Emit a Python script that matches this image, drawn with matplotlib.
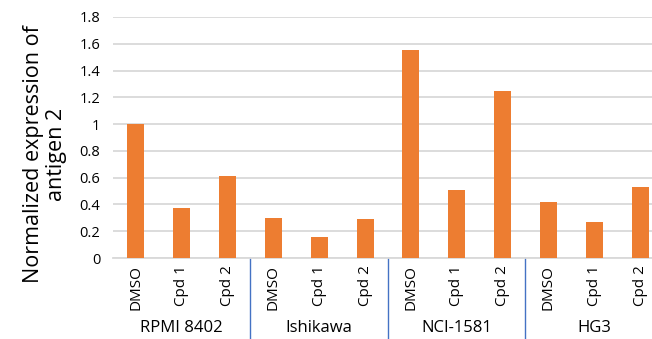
import matplotlib
matplotlib.use("Agg")
import matplotlib.pyplot as plt
import numpy as np

plt.rcParams['font.family'] = ['Open Sans', 'DejaVu Sans']

groups = ["RPMI 8402", "Ishikawa", "NCI-1581", "HG3"]
treatments = ["DMSO", "Cpd 1", "Cpd 2"]
values = [1.00, 0.37, 0.61,
          0.30, 0.16, 0.29,
          1.55, 0.51, 1.25,
          0.42, 0.27, 0.53]

W, H = 652, 339
fig = plt.figure(figsize=(W / 100, H / 100), dpi=100)
left, right, top, bottom = 113, 652, 17, 258
ax = fig.add_axes([left / W, 1 - bottom / H, (right - left) / W, (bottom - top) / H])

x = np.arange(len(values))
labels = treatments * len(groups)
ax.bar(x, values, width=0.37, color="#ED7D31", zorder=3)

ax.set_ylim(0, 1.8)
# plot area is cut on the right, as in the source image
ax.set_xlim(-0.5, len(values) - 0.5 - 11 / 45.86)
ax.set_yticks(np.arange(0, 1.81, 0.2))
ax.set_yticklabels(["0", "0.2", "0.4", "0.6", "0.8", "1", "1.2", "1.4", "1.6", "1.8"])
ax.yaxis.grid(True, color="#D9D9D9", linewidth=1.3, zorder=0)
ax.set_xticks(x)
ax.set_xticklabels(labels, rotation=90, fontsize=11, color="#000000")
ax.tick_params(axis="x", length=0, pad=5)
ax.tick_params(axis="y", length=0, pad=9, labelsize=10.5)
for s in ["top", "right", "left"]:
    ax.spines[s].set_visible(False)
ax.spines["bottom"].set_color("#D9D9D9")
ax.spines["bottom"].set_linewidth(1.3)

# group labels and separators below the axis
tr = ax.get_xaxis_transform()
n = len(treatments)
for i, g in enumerate(groups):
    ax.text(i * n + 1, -0.29, g, transform=tr, ha="center", va="center", fontsize=12)
    if i > 0:
        ax.plot([i * n - 0.5] * 2, [0, -0.35], transform=tr, color="#4472C4",
                linewidth=1, clip_on=False)

fig.text(45 / W, 1 - 154 / H, "Normalized expression of\nantigen 2", rotation=90,
         ha="center", va="center", fontsize=15.5, multialignment="center",
         linespacing=1.15)

fig.savefig("out.png", dpi=100)
